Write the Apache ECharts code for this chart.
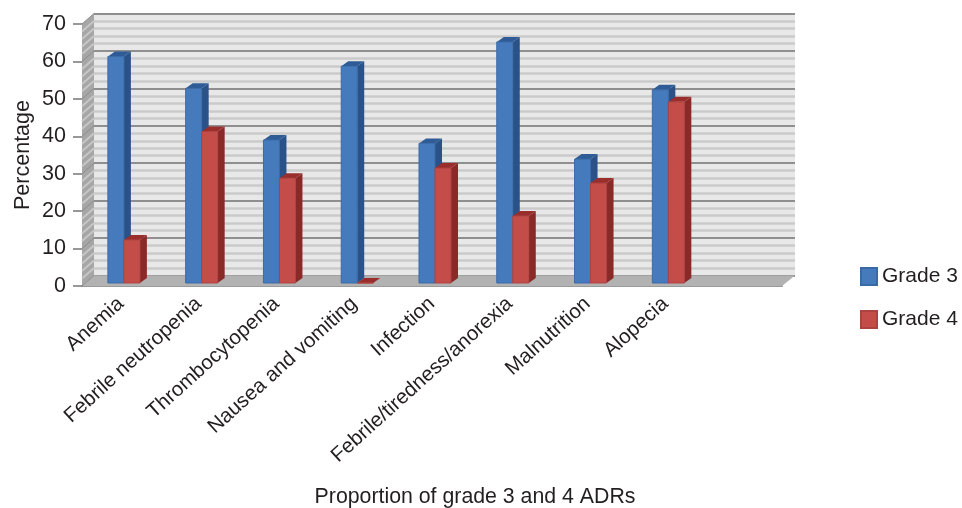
<!DOCTYPE html>
<html>
<head>
<meta charset="utf-8">
<title>Proportion of grade 3 and 4 ADRs</title>
<script src="https://cdn.jsdelivr.net/npm/echarts@6/dist/echarts.min.js"></script>
<style>
html, body { margin: 0; padding: 0; background: #fff; }
#chart { width: 962px; height: 508px; }
</style>
</head>
<body>
<div id="chart"></div>
<script>
// last band is empty in the original, the plot carries on past Alopecia
const categories = ['Anemia', 'Febrile neutropenia', 'Thrombocytopenia', 'Nausea and vomiting', 'Infection', 'Febrile/tiredness/anorexia', 'Malnutrition', 'Alopecia', '']
const grade3 = [60.5, 52, 38.2, 57.9, 37.3, 64.4, 33.1, 51.6]
const grade4 = [11.5, 40.5, 28, 0, 30.7, 17.9, 26.7, 48.4]
const wallSteps = [0, 2, 4, 6, 8, 10, 12, 14, 16, 18, 20, 22, 24, 26, 28, 30, 32, 34, 36, 38, 40, 42, 44, 46, 48, 50, 52, 54, 56, 58, 60, 62, 64, 66, 68, 70]

const textColor = '#231f20'
const font = 'Liberation Sans'
const depthX = 12
const depthY = 10.5
const barW = 16

// fake 3d box for one bar, the shift puts it a little way into the floor
function barItem (side, colors) {
  return function (params, api) {
    const p = api.coord([api.value(0), api.value(1)])
    const base = api.coord([api.value(0), 0])
    const x = p[0] + 3 + (side === 0 ? -barW : 0)
    const top = p[1] - 3
    const bottom = base[1] - 3
    const dx = 7
    const dy = 5
    return {
      type: 'group',
      children: [
        { type: 'polygon', shape: { points: [[x + barW, top], [x + barW + dx, top - dy], [x + barW + dx, bottom - dy], [x + barW, bottom]] }, style: { fill: colors.side } },
        { type: 'polygon', shape: { points: [[x, top], [x + dx, top - dy], [x + barW + dx, top - dy], [x + barW, top]] }, style: { fill: colors.top } },
        { type: 'rect', shape: { x: x, y: top, width: barW, height: bottom - top }, style: { fill: colors.front, stroke: colors.edge, lineWidth: 1 } }
      ]
    }
  }
}

// left wall and floor of the box
function wallItem (params, api) {
  const cs = params.coordSys
  const right = cs.x + cs.width
  const bottom = cs.y + cs.height
  const children = [
    { type: 'polygon', shape: { points: [[cs.x, cs.y], [cs.x + depthX, cs.y - depthY], [cs.x + depthX, bottom - depthY], [cs.x, bottom]] }, style: { fill: '#a6a6a6' } },
    { type: 'polygon', shape: { points: [[cs.x, bottom], [cs.x + depthX, bottom - depthY], [right + depthX + 1, bottom - depthY], [right, bottom]] }, style: { fill: '#b2b2b2' } }
  ]
  wallSteps.forEach(function (v) {
    const y = api.coord([0, v])[1]
    children.push({
      type: 'line',
      shape: { x1: cs.x, y1: y, x2: cs.x + depthX, y2: y - depthY },
      style: { stroke: v % 10 === 0 ? '#8c8c8c' : '#c6c6c6', lineWidth: v % 10 === 0 ? 1 : 2 }
    })
  })
  return { type: 'group', children: children }
}

const blue = { front: '#457bbd', side: '#2a5288', top: '#2f5b96', edge: '#3a6aa6' }
const red = { front: '#c44d4a', side: '#8a2a28', top: '#992e2c', edge: '#ad4340' }

const chart = echarts.init(document.getElementById('chart'), null, { renderer: 'canvas' })

const option = {
  animation: false,
  backgroundColor: '#fff',
  title: {
    text: 'Proportion of grade 3 and 4 ADRs',
    left: 470,
    top: 482,
    textAlign: 'center',
    textStyle: { color: textColor, fontFamily: font, fontSize: 21.3, fontWeight: 'normal' }
  },
  legend: {
    orient: 'vertical',
    left: 855,
    top: 261,
    itemWidth: 16,
    itemHeight: 17,
    itemGap: 22,
    icon: 'rect',
    data: ['Grade 3', 'Grade 4'],
    textStyle: { color: textColor, fontFamily: font, fontSize: 21 }
  },
  grid: [
    { left: 82, top: 24, width: 700, height: 262, outerBoundsMode: 'none' },
    { left: 94, top: 13.5, width: 701, height: 262, outerBoundsMode: 'none', show: true, backgroundColor: '#e8e8e8', borderWidth: 0, z: 0 }
  ],
  xAxis: [
    {
      type: 'category',
      gridIndex: 0,
      data: categories,
      axisLine: { show: true, lineStyle: { color: '#9a9a9a', width: 2 } },
      axisTick: { show: false },
      axisLabel: {
        interval: 0,
        rotate: 42,
        margin: 15,
        color: textColor,
        fontFamily: font,
        fontSize: 20.5
      }
    },
    { type: 'category', gridIndex: 1, data: categories, show: false }
  ],
  yAxis: [
    {
      type: 'value',
      gridIndex: 0,
      min: 0,
      max: 70,
      interval: 10,
      name: 'Percentage',
      nameLocation: 'middle',
      nameGap: 48,
      nameMoveOverlap: false,
      nameTextStyle: { color: textColor, fontFamily: font, fontSize: 21.5 },
      splitLine: { show: false },
      axisLine: { show: true, lineStyle: { color: '#9a9a9a', width: 1 } },
      axisTick: { show: true, length: 9, lineStyle: { color: '#777', width: 1.5 } },
      axisLabel: { margin: 16, color: textColor, fontFamily: font, fontSize: 21.5 }
    },
    {
      type: 'value',
      gridIndex: 1,
      min: 0,
      max: 70,
      interval: 10,
      axisLine: { show: false },
      axisTick: { show: false },
      axisLabel: { show: false },
      splitLine: { show: true, lineStyle: { color: '#8f8f8f', width: 2 } },
      minorTick: { show: false, splitNumber: 5 },
      minorSplitLine: { show: true, lineStyle: { color: '#cacaca', width: 2.5 } }
    }
  ],
  series: [
    {
      type: 'custom',
      name: 'walls',
      xAxisIndex: 0,
      yAxisIndex: 0,
      silent: true,
      z: 1,
      data: [[0, 0]],
      renderItem: wallItem
    },
    {
      type: 'custom',
      name: 'Grade 3',
      xAxisIndex: 0,
      yAxisIndex: 0,
      z: 3,
      itemStyle: { color: blue.front, borderColor: blue.edge, borderWidth: 1 },
      data: grade3.map(function (v, i) { return [i, v] }),
      encode: { x: 0, y: 1 },
      renderItem: barItem(0, blue)
    },
    {
      type: 'custom',
      name: 'Grade 4',
      xAxisIndex: 0,
      yAxisIndex: 0,
      z: 3,
      itemStyle: { color: red.front, borderColor: red.edge, borderWidth: 1 },
      data: grade4.map(function (v, i) { return [i, v] }),
      encode: { x: 0, y: 1 },
      renderItem: barItem(1, red)
    }
  ]
}

chart.setOption(option)
window.addEventListener('resize', function () {
  chart.resize()
})
</script>
</body>
</html>
